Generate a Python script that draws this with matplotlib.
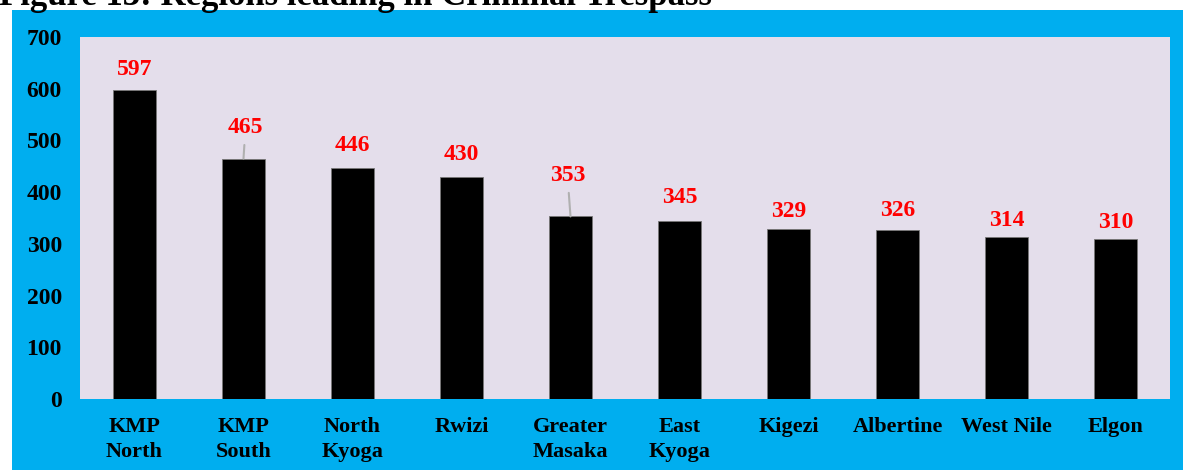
import matplotlib.pyplot as plt
from matplotlib.patches import Rectangle

regions = ["KMP\nNorth", "KMP\nSouth", "North\nKyoga", "Rwizi", "Greater\nMasaka",
           "East\nKyoga", "Kigezi", "Albertine", "West Nile", "Elgon"]
cases = [597, 465, 446, 430, 353, 345, 329, 326, 314, 310]

# label offsets above the bar top, in pixels (dx, dy)
label_dx = [0, 2, 0, 0, -3, 0, 0, 0, 0, 0]
label_dy = [21, 31, 23, 22, 41, 23, 17, 20, 16, 16]
leader = [False, True, False, False, True, False, False, False, False, False]

plt.rcParams['font.family'] = ['Liberation Serif', 'DejaVu Serif']
plt.rcParams['font.weight'] = 'bold'

W, H = 1183, 470
fig = plt.figure(figsize=(W / 100, H / 100), dpi=100, facecolor='white')

# blue frame
fig.patches.append(Rectangle((12 / W, 0), 1 - 12 / W, (H - 10) / H, transform=fig.transFigure,
                             facecolor='#00AEEF', edgecolor='none', zorder=-5))
# cut-off title at the very top
fig.text(-1 / W, 1 - 5 / H, "Figure 13: Regions leading in Criminal Trespass",
         fontsize=25, fontweight='bold', va='baseline', ha='left', color='black')

ax = fig.add_axes([80 / W, (H - 399) / H, 1090 / W, 362 / H])
ax.set_facecolor('#E4DEEB')
x = range(len(regions))
ax.bar(x, cases, width=0.4, color='black', edgecolor='#777777', linewidth=0.6)
ax.set_xlim(-0.5, len(regions) - 0.5)
ax.set_ylim(0, 700)
ax.set_yticks(range(0, 701, 100))
ax.set_xticks(list(x))
ax.set_xticklabels(regions, fontsize=16, fontweight='bold', linespacing=1.3, va='top')
for lbl in ax.get_yticklabels():
    lbl.set_fontsize(17)
    lbl.set_fontweight('bold')
ax.tick_params(axis='y', length=0, pad=13)
ax.tick_params(axis='x', length=0, pad=13)
for s in ax.spines.values():
    s.set_visible(False)

for i, v in enumerate(cases):
    props = None
    if leader[i]:
        props = dict(arrowstyle='-', color='#B0B0B0', lw=1.5, shrinkA=3, shrinkB=0)
    ax.annotate(str(v), xy=(i, v), xytext=(label_dx[i], label_dy[i]), textcoords='offset pixels',
                ha='center', va='center', color='#FF0000', fontsize=17, fontweight='bold',
                arrowprops=props)

fig.savefig('out.png', dpi=100, facecolor='white')
